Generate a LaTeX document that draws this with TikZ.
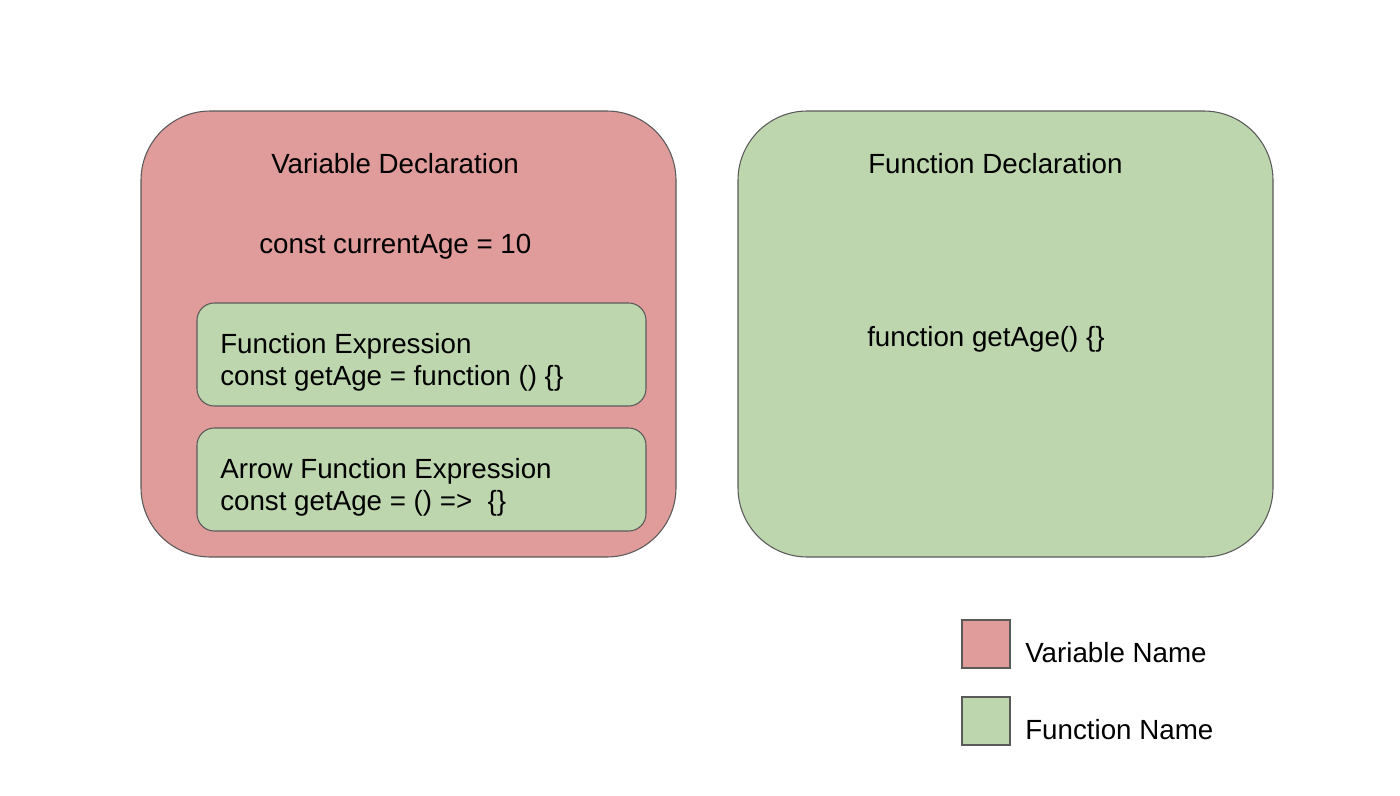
\documentclass[tikz,border=0pt]{standalone}
\usepackage{fontspec}
\setmainfont{Liberation Sans}
\definecolor{varred}{RGB}{224,155,155}
\definecolor{fungreen}{RGB}{189,214,174}
\definecolor{edge}{RGB}{90,90,90}
\begin{document}
\begin{tikzpicture}[x=0.75pt,y=-0.75pt,
  box/.style={draw=edge,line width=0.8pt},
  txt/.style={anchor=base west,inner sep=0pt,font=\fontsize{20.8}{24}\selectfont,text=black}]
\useasboundingbox[fill=white] (0,0) rectangle (1400,796);
% big boxes
\draw[box,fill=varred,rounded corners=52pt] (141,111) rectangle (676,557);
\draw[box,fill=fungreen,rounded corners=52pt] (738,111) rectangle (1273,557);
% inner boxes
\draw[box,fill=fungreen,rounded corners=13pt] (197,303) rectangle (646,406);
\draw[box,fill=fungreen,rounded corners=13pt] (197,428) rectangle (646,531);
% legend squares
\draw[box,fill=varred] (962,620) rectangle (1010,668);
\draw[box,fill=fungreen] (962,697) rectangle (1010,745);
% texts
\node[txt] (vd) at (271,173) {Variable Declaration};
\node[txt] (ca) at (259,253) {const currentAge = 10};
\node[txt] (fe) at (220,353) {Function Expression};
\node[txt] (fec) at (220,385) {const getAge = function () \{\}};
\node[txt] (afe) at (220,478) {Arrow Function Expression};
\node[txt] (afec) at (220,510) {const getAge = () => \ \{\}};
\node[txt] (fd) at (868,173) {Function Declaration};
\node[txt] (fdc) at (867,346) {function getAge() \{\}};
\node[txt] (lv) at (1025,662) {Variable Name};
\node[txt] (lf) at (1025,739) {Function Name};
\end{tikzpicture}
\end{document}
